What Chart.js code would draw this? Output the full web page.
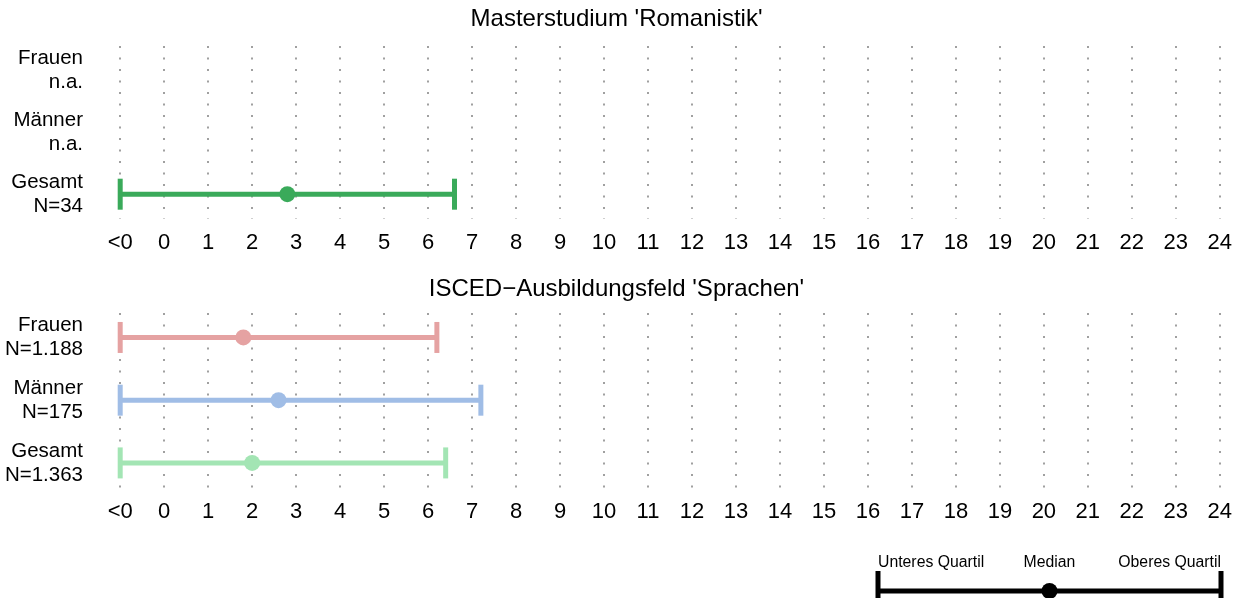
<!DOCTYPE html>
<html lang="de">
<head>
<meta charset="utf-8">
<title>Masterstudium Romanistik</title>
<script src="https://cdn.jsdelivr.net/npm/chart.js@4/dist/chart.umd.min.js"></script>
<style>
    html, body { margin: 0; padding: 0; background: #fff; overflow: hidden; }
    #page { position: relative; width: 1246px; height: 598px; }
    canvas { position: absolute; }
    #panel-top { left: 0; top: 0; }
    #panel-bottom { left: 0; top: 267px; }
    #legend-box { left: 860px; top: 540px; }
</style>
</head>
<body>
<div id="page">
    <canvas id="panel-top" width="1246" height="262"></canvas>
    <canvas id="panel-bottom" width="1246" height="264"></canvas>
    <canvas id="legend-box" width="380" height="102"></canvas>
</div>
<script>
// --- DATEN ---
const tickLabels = ['<0', '0', '1', '2', '3', '4', '5', '6', '7', '8', '9', '10', '11', '12',
    '13', '14', '15', '16', '17', '18', '19', '20', '21', '22', '23', '24'];
const tickValues = [-1, 0, 1, 2, 3, 4, 5, 6, 7, 8, 9, 10, 11, 12,
    13, 14, 15, 16, 17, 18, 19, 20, 21, 22, 23, 24];

// Panel 1: Masterstudium 'Romanistik'
const title1 = "Masterstudium 'Romanistik'";
const rows1 = [['Frauen', 'n.a.'], ['Männer', 'n.a.'], ['Gesamt', 'N=34']];
const lower1 = [null, null, -1];
const median1 = [null, null, 2.8];
const upper1 = [null, null, 6.6];
const colors1 = [null, null, '#3aaa5a'];

// Panel 2: ISCED-Ausbildungsfeld 'Sprachen'
const title2 = "ISCED\u2212Ausbildungsfeld 'Sprachen'";
const rows2 = [['Frauen', 'N=1.188'], ['Männer', 'N=175'], ['Gesamt', 'N=1.363']];
const lower2 = [-1, -1, -1];
const median2 = [1.8, 2.6, 2.0];
const upper2 = [6.2, 7.2, 6.4];
const colors2 = ['#e5a2a2', '#a0bde6', '#a3e5b4'];

// Legende
const legendLabels = ['Unteres Quartil', 'Median', 'Oberes Quartil'];

const FONT = "'Liberation Sans', Arial, Helvetica, sans-serif";
const GRID_COLOR = '#a0a0a0';

// Datensaetze fuer eine Zeile: Linie mit Endstrichen + Median-Punkt
function buildDatasets(lower, median, upper, colors) {
    const sets = [];
    lower.forEach((lo, i) => {
        if (lo === null) return;
        sets.push({
            data: [{ x: lo, y: i }, { x: upper[i], y: i }],
            showLine: true,
            borderColor: colors[i],
            borderWidth: 5,
            pointStyle: 'line',
            pointRotation: 90,
            pointRadius: 15.5,
            pointBorderWidth: 5,
            pointBorderColor: colors[i],
            order: 2,
            clip: false
        });
        sets.push({
            data: [{ x: median[i], y: i }],
            pointStyle: 'circle',
            pointRadius: 8,
            pointBorderWidth: 0,
            backgroundColor: colors[i],
            order: 1,
            clip: false
        });
    });
    return sets;
}

// Label-Ueberhang der Achsen nicht in den Layout-Rand einrechnen
function noOverhang(scale) {
    scale.paddingTop = 0;
    scale.paddingBottom = 0;
    scale.paddingLeft = 0;
    scale.paddingRight = 0;
}

function createPanel(canvasId, title, titleTop, rows, lower, median, upper, colors) {
    const ctx = document.getElementById(canvasId).getContext('2d');
    return new Chart(ctx, {
        type: 'scatter',
        data: { datasets: buildDatasets(lower, median, upper, colors) },
        options: {
            responsive: false,
            animation: false,
            events: [],
            layout: { autoPadding: false, padding: { left: 0, right: 13, top: 0, bottom: 0 } },
            plugins: {
                legend: { display: false },
                tooltip: { enabled: false },
                title: {
                    display: true,
                    text: title,
                    color: '#000',
                    font: { family: FONT, size: 24, weight: 'normal', lineHeight: 1.2 },
                    padding: { top: titleTop, bottom: 17.2 - titleTop }
                }
            },
            scales: {
                x: {
                    type: 'linear',
                    min: -1.3,
                    max: 24.3,
                    afterBuildTicks: (scale) => { scale.ticks = tickValues.map(v => ({ value: v })); },
                    afterFit: (scale) => { scale.height = 43; noOverhang(scale); },
                    ticks: {
                        callback: (value, index) => tickLabels[index],
                        color: '#000',
                        padding: 11,
                        maxRotation: 0,
                        autoSkip: false,
                        font: { family: FONT, size: 22, lineHeight: 1.2 }
                    },
                    grid: { color: GRID_COLOR, lineWidth: 2, drawTicks: false, borderDash: [2, 9.5] },
                    border: { display: false, dash: [2, 9.5] }
                },
                y: {
                    type: 'linear',
                    reverse: true,
                    min: -0.39,
                    max: 2.4,
                    afterBuildTicks: (scale) => { scale.ticks = [0, 1, 2].map(v => ({ value: v })); },
                    afterFit: (scale) => { scale.width = 107; noOverhang(scale); },
                    ticks: {
                        callback: (value) => rows[value],
                        color: '#000',
                        padding: 24,
                        font: { family: FONT, size: 20.5, lineHeight: 1.17 }
                    },
                    grid: { display: false, drawTicks: false },
                    border: { display: false }
                }
            }
        }
    });
}

// Beschriftung der Legende ueber der Beispiel-Linie
const legendTextPlugin = {
    id: 'legendText',
    afterDraw(chart) {
        const c = chart.ctx;
        const xs = chart.scales.x;
        const aligns = ['left', 'center', 'right'];
        const pos = [0, 0.5, 1];
        c.save();
        c.fillStyle = '#000';
        c.font = '15.8px ' + FONT;
        c.textBaseline = 'alphabetic';
        legendLabels.forEach((txt, i) => {
            c.textAlign = aligns[i];
            c.fillText(txt, xs.getPixelForValue(pos[i]), 27);
        });
        c.restore();
    }
};

function createLegend() {
    const ctx = document.getElementById('legend-box').getContext('2d');
    return new Chart(ctx, {
        type: 'scatter',
        data: {
            datasets: [
                {
                    data: [{ x: 0, y: 0.5 }, { x: 1, y: 0.5 }],
                    showLine: true,
                    borderColor: '#000',
                    borderWidth: 5,
                    pointStyle: 'line',
                    pointRotation: 90,
                    pointRadius: 20,
                    pointBorderWidth: 5,
                    pointBorderColor: '#000',
                    order: 2,
                    clip: false
                },
                {
                    data: [{ x: 0.5, y: 0.5 }],
                    pointRadius: 8,
                    pointBorderWidth: 0,
                    backgroundColor: '#000',
                    order: 1,
                    clip: false
                }
            ]
        },
        options: {
            responsive: false,
            animation: false,
            events: [],
            layout: { autoPadding: false, padding: { left: 18, right: 19, top: 0, bottom: 0 } },
            plugins: { legend: { display: false }, tooltip: { enabled: false } },
            scales: {
                x: { type: 'linear', min: 0, max: 1, display: false },
                y: { type: 'linear', min: 0, max: 1, display: false }
            }
        },
        plugins: [legendTextPlugin]
    });
}

createPanel('panel-top', title1, 5, rows1, lower1, median1, upper1, colors1);
createPanel('panel-bottom', title2, 8, rows2, lower2, median2, upper2, colors2);
createLegend();
</script>
</body>
</html>
